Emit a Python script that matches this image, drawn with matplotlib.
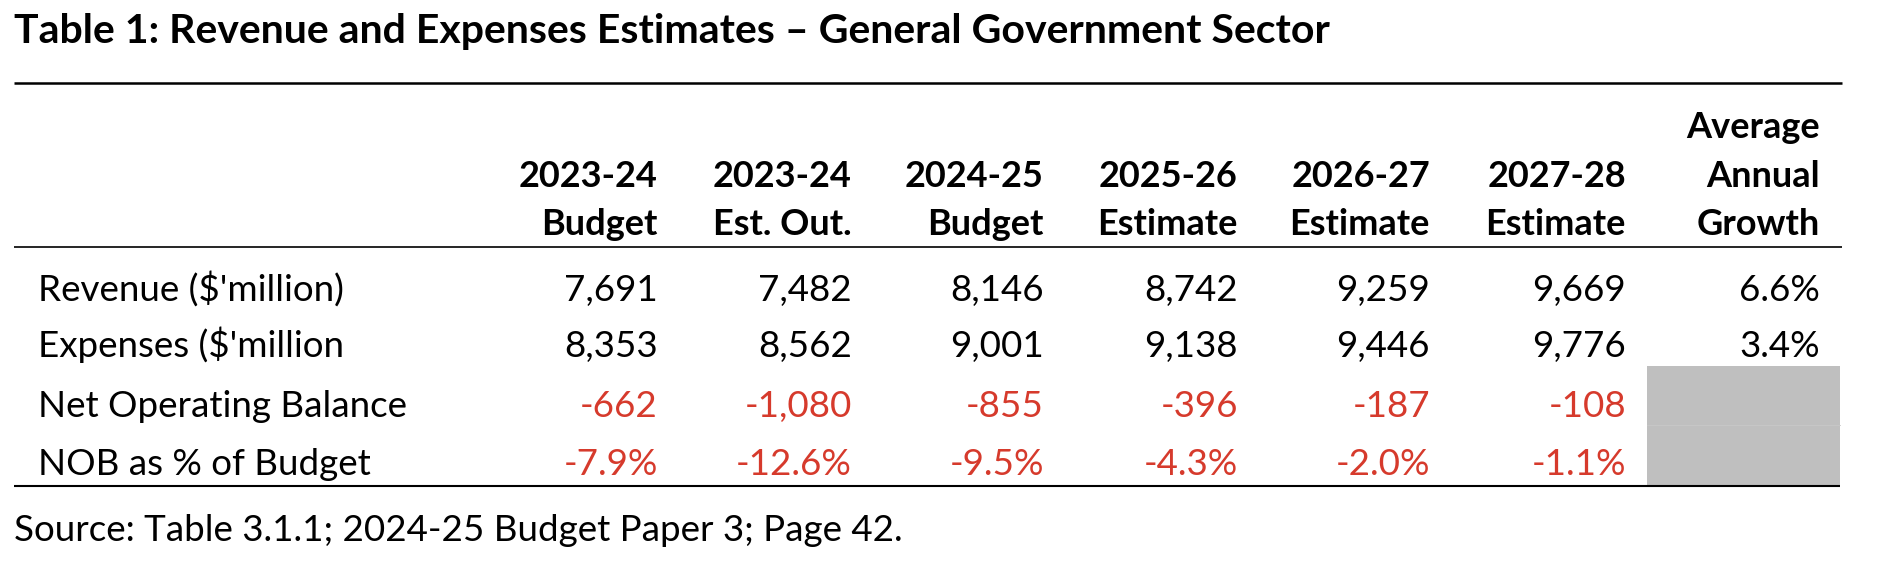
import matplotlib.pyplot as plt
from matplotlib.patches import Rectangle

# table content
title = 'Table 1: Revenue and Expenses Estimates \u2013 General Government Sector'
col_top = ['', '', '', '', '', '', 'Average']
col_mid = ['2023-24', '2023-24', '2024-25', '2025-26', '2026-27', '2027-28', 'Annual']
col_bot = ['Budget', 'Est. Out.', 'Budget', 'Estimate', 'Estimate', 'Estimate', 'Growth']
row_labels = ["Revenue ($'million)", "Expenses ($'million", 'Net Operating Balance', 'NOB as % of Budget']
revenue = [7691, 7482, 8146, 8742, 9259, 9669]
expenses = [8353, 8562, 9001, 9138, 9446, 9776]
nob = [-662, -1080, -855, -396, -187, -108]
nob_pct = [-7.9, -12.6, -9.5, -4.3, -2.0, -1.1]
growth = [6.6, 3.4]
source = 'Source: Table 3.1.1; 2024-25 Budget Paper 3; Page 42.'

W, H = 1878, 566
FONT = 'Lato'
FS_TITLE = 29.5
FS_HEAD = 26
FS = 26.5
RED = '#d63a2c'

fig = plt.figure(figsize=(W / 100, H / 100), dpi=100)
ax = fig.add_axes([0, 0, 1, 1])
ax.set_xlim(0, W)
ax.set_ylim(H, 0)
ax.axis('off')

col_right = [658, 852, 1044, 1238, 1430, 1626, 1820]
row_base = [301, 357, 417, 475]

ax.text(14, 43, title, fontsize=FS_TITLE, fontweight='bold', family=FONT, va='baseline', ha='left')

# rules
ax.plot([14, 1842], [83, 83], color='black', lw=1.8, solid_capstyle='butt')
ax.plot([14, 1842], [247, 247], color='black', lw=1.2, solid_capstyle='butt')

# grey cells for growth column
ax.add_patch(Rectangle((1647, 366), 193, 119, facecolor='#bfbfbf', edgecolor='none'))
ax.plot([1647, 1840], [425, 425], color='#c8c8c8', lw=0.6)
ax.plot([14, 1840], [486, 486], color='black', lw=1.5, solid_capstyle='butt')

for i, x in enumerate(col_right):
    for txt, y in zip([col_top[i], col_mid[i], col_bot[i]], [138, 187, 235]):
        if txt:
            ax.text(x, y, txt, fontsize=FS_HEAD, fontweight='bold', family=FONT, ha='right', va='baseline')

rows = [
    ([f'{v:,}' for v in revenue] + [f'{growth[0]:.1f}%'], 'black'),
    ([f'{v:,}' for v in expenses] + [f'{growth[1]:.1f}%'], 'black'),
    ([f'{v:,}' for v in nob], RED),
    ([f'{v:.1f}%' for v in nob_pct], RED),
]
for label, (vals, color), y in zip(row_labels, rows, row_base):
    ax.text(38, y, label, fontsize=FS, family=FONT, ha='left', va='baseline')
    for x, v in zip(col_right, vals):
        ax.text(x, y, v, fontsize=FS, family=FONT, color=color, ha='right', va='baseline')

ax.text(14, 541, source, fontsize=FS, family=FONT, ha='left', va='baseline')

fig.savefig('out.png', dpi=100)
